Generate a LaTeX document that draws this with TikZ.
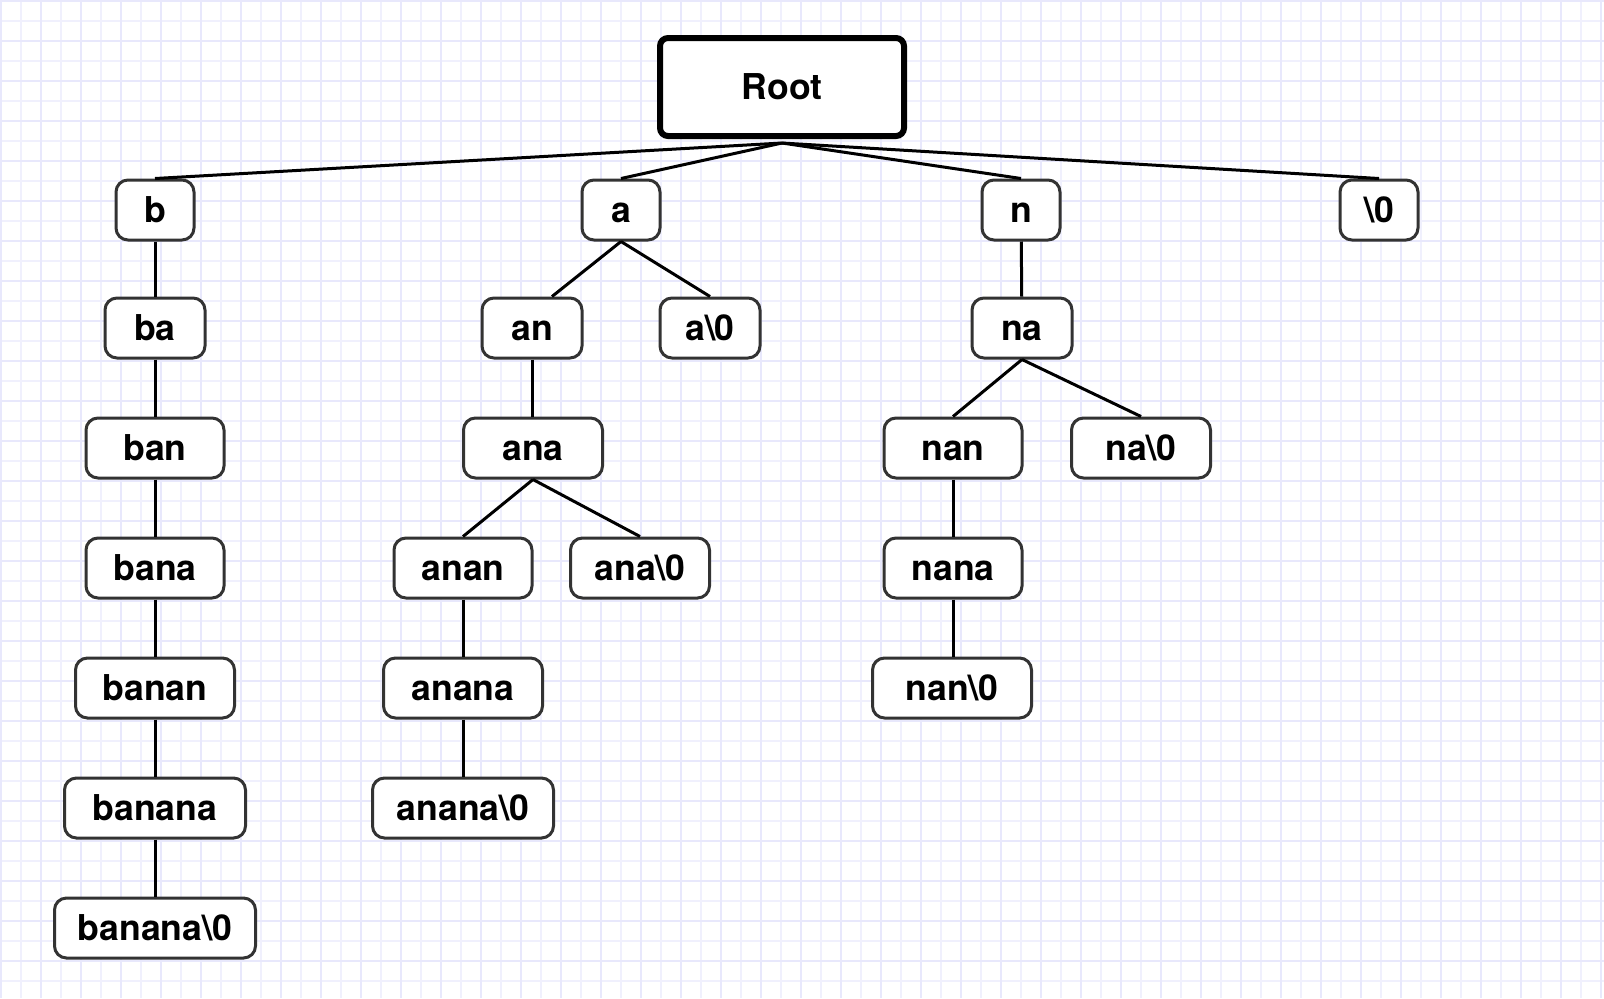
\documentclass[tikz,border=0pt]{standalone}
\usepackage{fontspec}
\setmainfont{TeX Gyre Heros}
\usepackage{tikz}

\tikzset{
	trienode/.style={draw=black!80, line width=1.5pt, rounded corners=6pt, fill=white,
		minimum height=30pt, inner sep=0pt, text height=12.8pt, text depth=0pt,
		font=\fontsize{17.8}{20}\selectfont\bfseries},
	rootnode/.style={trienode, draw=black, line width=3pt, rounded corners=4pt,
		minimum width=122pt, minimum height=49pt},
	edge/.style={line width=1.5pt, black}
}

\begin{document}
\begin{tikzpicture}[x=0.5pt, y=-0.5pt]

	\useasboundingbox (0,0) rectangle (1604,998);
	\fill[white] (0,0) rectangle (1604,998);
	% grid paper
	\foreach \i in {1,21,...,1604}{
		\draw[line width=0.6pt, color={rgb,255:red,240;green,240;blue,253}] (\i,0) -- (\i,998);
	}
	\foreach \i in {1,21,...,998}{
		\draw[line width=0.6pt, color={rgb,255:red,240;green,240;blue,253}] (0,\i) -- (1604,\i);
	}
	\foreach \i in {1,41,...,1604}{
		\draw[line width=1pt, color={rgb,255:red,232;green,232;blue,252}] (\i,0) -- (\i,998);
	}
	\foreach \i in {1,41,...,998}{
		\draw[line width=1pt, color={rgb,255:red,232;green,232;blue,252}] (0,\i) -- (1604,\i);
	}

	\node[rootnode] (root) at (782,87) {Root};
	\coordinate (rootfoot) at (782,143);

	% first letter
	\node[trienode, minimum width=39pt] (b) at (155,210) {b};
	\node[trienode, minimum width=39pt] (a) at (621,210) {a};
	\node[trienode, minimum width=39pt] (n) at (1021,210) {n};
	\node[trienode, minimum width=39pt] (end) at (1379,210) {\textbackslash 0};

	% b branch
	\node[trienode, minimum width=50pt] (ba) at (155,328) {ba};
	\node[trienode, minimum width=69pt] (ban) at (155,448) {ban};
	\node[trienode, minimum width=69pt] (bana) at (155,568) {bana};
	\node[trienode, minimum width=79.5pt] (banan) at (155,688) {banan};
	\node[trienode, minimum width=90.5pt] (banana) at (155,808) {banana};
	\node[trienode, minimum width=100.5pt] (bananaend) at (155,928) {banana\textbackslash 0};

	% a branch
	\node[trienode, minimum width=50pt] (an) at (532,328) {an};
	\node[trienode, minimum width=50pt] (aend) at (710,328) {a\textbackslash 0};
	\node[trienode, minimum width=69.5pt] (ana) at (533,448) {ana};
	\node[trienode, minimum width=69pt] (anan) at (463,568) {anan};
	\node[trienode, minimum width=69.5pt] (anaend) at (640,568) {ana\textbackslash 0};
	\node[trienode, minimum width=79.5pt] (anana) at (463,688) {anana};
	\node[trienode, minimum width=90.5pt] (ananaend) at (463,808) {anana\textbackslash 0};

	% n branch
	\node[trienode, minimum width=50pt] (na) at (1022,328) {na};
	\node[trienode, minimum width=69pt] (nan) at (953,448) {nan};
	\node[trienode, minimum width=69.5pt] (naend) at (1141,448) {na\textbackslash 0};
	\node[trienode, minimum width=69pt] (nana) at (953,568) {nana};
	\node[trienode, minimum width=79.5pt] (nanend) at (952,688) {nan\textbackslash 0};

	\draw[edge] (rootfoot) -- (b.north);
	\draw[edge] (rootfoot) -- (a.north);
	\draw[edge] (rootfoot) -- (n.north);
	\draw[edge] (rootfoot) -- (end.north);

	\draw[edge] (b) -- (ba);
	\draw[edge] (ba) -- (ban);
	\draw[edge] (ban) -- (bana);
	\draw[edge] (bana) -- (banan);
	\draw[edge] (banan) -- (banana);
	\draw[edge] (banana) -- (bananaend);

	\draw[edge] (a.south) -- ([xshift=10pt]an.north);
	\draw[edge] (a.south) -- (aend.north);
	\draw[edge] (an) -- (an |- ana.north);
	\draw[edge] (ana.south) -- (anan.north);
	\draw[edge] (ana.south) -- (anaend.north);
	\draw[edge] (anan) -- (anana);
	\draw[edge] (anana) -- (ananaend);

	\draw[edge] (n) -- (na);
	\draw[edge] (na.south) -- (nan.north);
	\draw[edge] (na.south) -- (naend.north);
	\draw[edge] (nan) -- (nana);
	\draw[edge] (nana) -- (nana |- nanend.north);

\end{tikzpicture}
\end{document}
